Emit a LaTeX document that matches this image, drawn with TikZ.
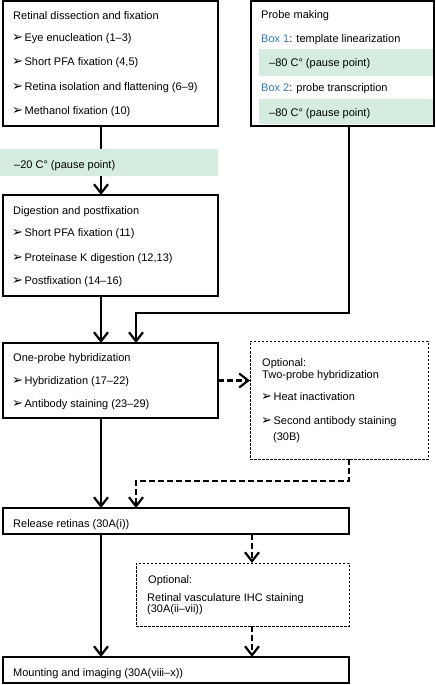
\documentclass[tikz,border=0pt]{standalone}
\usepackage{fontspec}
\setmainfont{Liberation Sans}
\newfontfamily\symfont{DejaVu Sans}
\usetikzlibrary{arrows.meta,calc}
\definecolor{pausecol}{HTML}{D4EDDF}
\definecolor{boxblue}{HTML}{2E7BBF}
\newcommand\bul{{\symfont\fontsize{13bp}{13bp}\selectfont ➢}\hspace{1.5bp}}
\begin{document}
\begin{tikzpicture}[x=1bp,y=-1bp,
  font=\fontsize{11bp}{13bp}\selectfont,
  box/.style={draw, line width=1.2bp, anchor=north west, inner sep=0, outer sep=0},
  dbox/.style={draw, line width=1bp, dash pattern=on 2.5bp off 1.5bp, anchor=north west, inner sep=0, outer sep=0},
  pause/.style={fill=pausecol, anchor=north west, inner sep=0, outer sep=0},
  txt/.style={anchor=base west, inner sep=0},
  arr/.style={line width=2.2bp, -{Straight Barb[length=9bp,width=14bp]}},
  darr/.style={arr, dash pattern=on 6bp off 3bp},
]
\useasboundingbox (0,0) rectangle (436,685);
\coordinate (c1) at (101,0);
\coordinate (c2) at (136,0);
\coordinate (c3) at (349,0);
\coordinate (c4) at (252,0);
\coordinate (j1) at (0,313);
\coordinate (j2) at (0,481);

% boxes
\node[box, minimum width=215bp, minimum height=125bp] (b1) at (3,1) {};
\node[box, minimum width=215bp, minimum height=101bp] (b2) at (3,195) {};
\node[pause, minimum width=175bp, minimum height=27bp] (g1) at (259,49) {};
\node[pause, minimum width=174bp, minimum height=25bp] (g2) at (259,99) {};
\node[box, minimum width=183bp, minimum height=125bp] (pb) at (251,1) {};
\node[box, minimum width=215bp, minimum height=75bp] (b3) at (3,343) {};
\node[dbox, minimum width=178bp, minimum height=118bp] (o1) at (250,341) {};
\node[box, minimum width=346bp, minimum height=26bp] (rel) at (3,508) {};
\node[dbox, minimum width=213bp, minimum height=63bp] (o2) at (136,563) {};
\node[box, minimum width=346bp, minimum height=26bp] (mnt) at (3,657) {};

% connectors
\draw[arr] (b1.south -| c1) -- (b2.north -| c1);
\node[pause, minimum width=218bp, minimum height=27bp] (g0) at (0,149) {};
\draw[arr] (b2.south -| c1) -- (b3.north -| c1);
\draw[arr] (pb.south -| c3) |- (j1 -| c2) -- (b3.north -| c2);
\draw[darr] (b3.east) -- (o1.west |- b3.east);
\draw[darr] (o1.south -| c3) |- (j2 -| c2) -- (rel.north -| c2);
\draw[arr] (b3.south -| c1) -- (rel.north -| c1);
\draw[darr] (rel.south -| c4) -- (o2.north -| c4);
\draw[arr] (rel.south -| c1) -- (mnt.north -| c1);
\draw[darr] (o2.south -| c4) -- (mnt.north -| c4);

% texts box 1
\node[txt] (t11) at (13,20) {Retinal dissection and fixation};
\node[txt] (t12) at (12,42) {\bul Eye enucleation (1–3)};
\node[txt] (t13) at (12,66) {\bul Short PFA fixation (4,5)};
\node[txt] (t14) at (12,91) {\bul Retina isolation and flattening (6–9)};
\node[txt] (t15) at (12,115) {\bul Methanol fixation (10)};
\node[txt] (t0) at (14,168) {–20 C° (pause point)};
% box 2
\node[txt] (t21) at (13,214) {Digestion and postfixation};
\node[txt] (t22) at (12,236) {\bul Short PFA fixation (11)};
\node[txt] (t23) at (12,261) {\bul Proteinase K digestion (12,13)};
\node[txt] (t24) at (12,284) {\bul Postfixation (14–16)};
% probe
\node[txt] (tp1) at (261,19) {Probe making};
\node[txt] (tp2) at (261,43) {\textcolor{boxblue}{Box 1}: template linearization};
\node[txt] (tp3) at (269,67) {–80 C° (pause point)};
\node[txt] (tp4) at (261,92) {\textcolor{boxblue}{Box 2}: probe transcription};
\node[txt] (tp5) at (269,117) {–80 C° (pause point)};
% box 3
\node[txt] (t31) at (13,361) {One-probe hybridization};
\node[txt] (t32) at (12,384) {\bul Hybridization (17–22)};
\node[txt] (t33) at (12,407) {\bul Antibody staining (23–29)};
% optional 1
\node[txt] (to1) at (262,366) {Optional:};
\node[txt] (to2) at (262,378) {Two-probe hybridization};
\node[txt] (to3) at (261,400) {\bul Heat inactivation};
\node[txt] (to4) at (261,424) {\bul Second antibody staining};
\node[txt] (to5) at (273,440) {(30B)};
% release
\node[txt] (tr) at (13,527) {Release retinas (30A(i))};
% optional 2
\node[txt] (tq1) at (148,583) {Optional:};
\node[txt] (tq2) at (147,601) {Retinal vasculature IHC staining};
\node[txt] (tq3) at (147,612) {(30A(ii–vii))};
% mounting
\node[txt] (tm) at (13,676) {Mounting and imaging (30A(viii–x))};
\end{tikzpicture}
\end{document}
